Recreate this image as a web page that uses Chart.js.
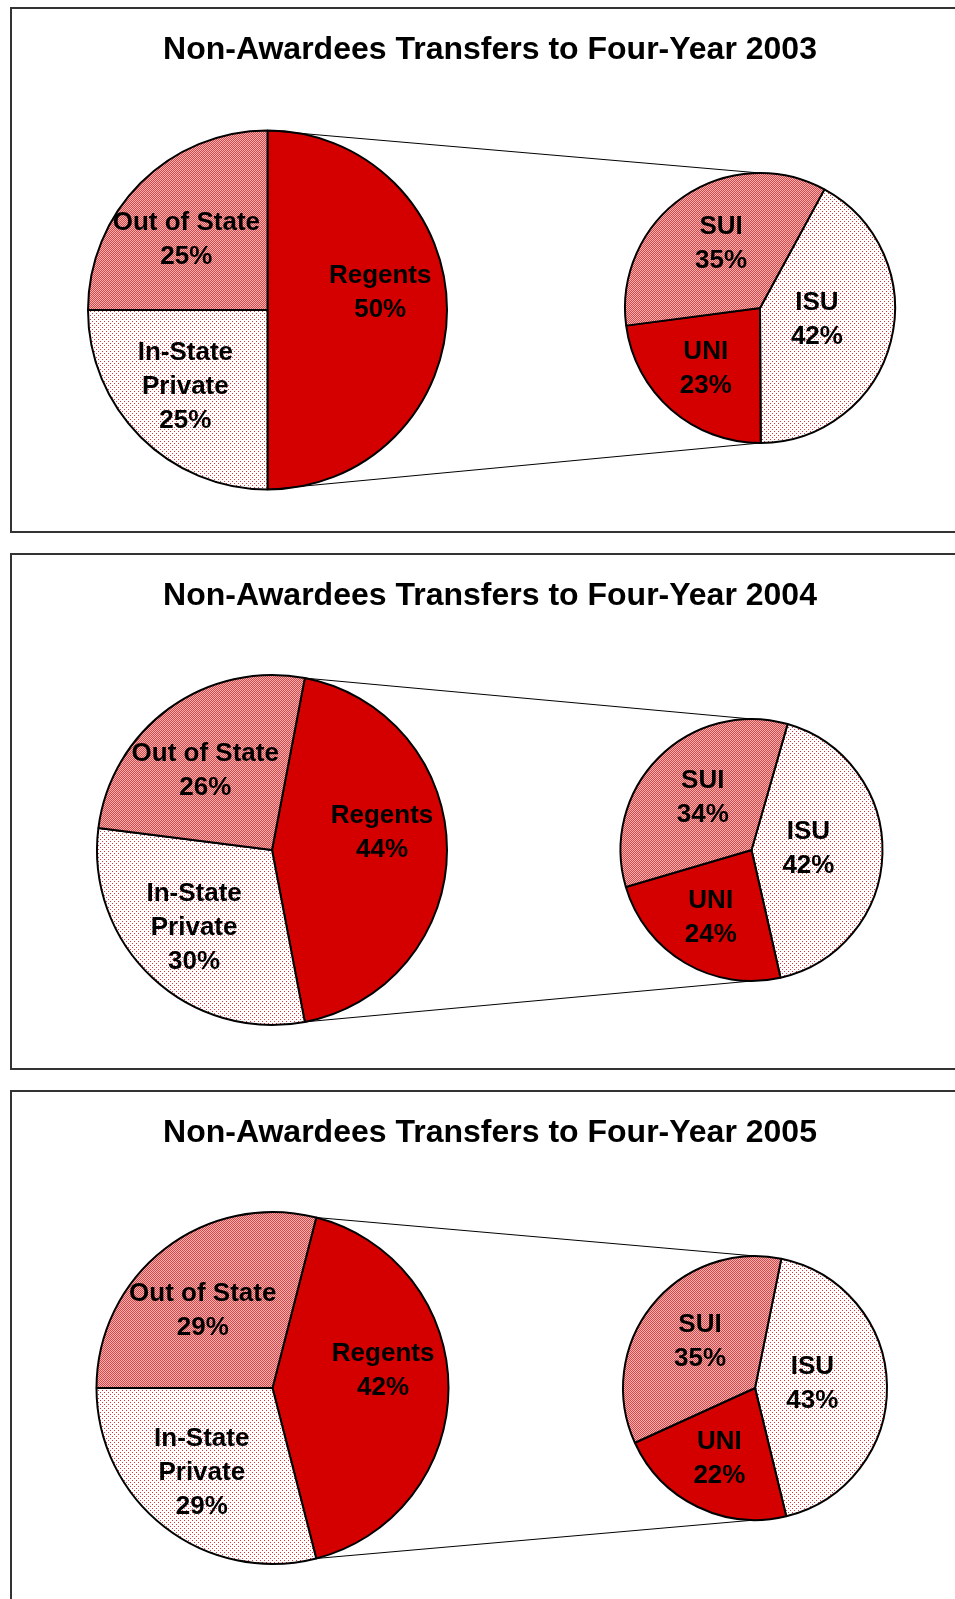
<!DOCTYPE html>
<html>
<head>
<meta charset="utf-8">
<title>Non-Awardees Transfers to Four-Year</title>
<script src="https://cdn.jsdelivr.net/npm/chart.js@4.4.1/dist/chart.umd.min.js"></script>
<style>
  html, body { margin: 0; padding: 0; background: #fff; overflow: hidden; }
  .panel { position: absolute; left: 10px; width: 960px; border: 2px solid #333; box-sizing: border-box; background: #fff; }
  .panel canvas { position: absolute; left: 0; top: 0; }
  .panel h2 { position: absolute; left: 0; right: 0; top: 23px; margin: 0; z-index: 2;
    text-align: center; font: bold 32px "Liberation Sans", Arial, sans-serif; line-height: 32px; color: #000; }
</style>
</head>
<body>
<script>
// data (percent)
const years = ["2003", "2004", "2005"];
const mainLabels = ["Regents", "In-State\nPrivate", "Out of State"];
const regentsShare = [50, 44, 42];
const inStatePrivateShare = [25, 30, 29];
const outOfStateShare = [25, 26, 29];
const zoomLabels = ["ISU", "UNI", "SUI"];
const isuShare = [42, 42, 43];
const uniShare = [23, 24, 22];
const suiShare = [35, 34, 35];

// layout of each panel on the page
const panels = [
  { top: 7,    height: 526, main: { x: 267.5, y: 310,  r: 179.5 }, zoom: { x: 760,   y: 308,  r: 135 }, zoomRotation: 28.5 },
  { top: 553,  height: 517, main: { x: 272,   y: 850,  r: 175 },   zoom: { x: 751.5, y: 850,  r: 131 }, zoomRotation: 16 },
  { top: 1090, height: 520, main: { x: 272.5, y: 1388, r: 176 },   zoom: { x: 755,   y: 1388, r: 132 }, zoomRotation: 11.5 }
];
// label placement per slice: share of the radius along the bisector, then a shift in px
const mainLabelPos = [{ k: 0.6, dx: 5, dy: -17 }, { k: 0.6, dx: -6, dy: 1 }, { k: 0.6, dx: -5, dy: 6 }];
const zoomLabelPos = [{ k: 0.45, dx: -2, dy: -3 }, { k: 0.6, dx: -1, dy: 0 }, { k: 0.6, dx: 7, dy: 3 }];

const RED = "#D40000";
const FONT = '"Liberation Sans", Arial, sans-serif';

function makePattern(size, bg, fg, cells) {
  const c = document.createElement("canvas");
  c.width = size; c.height = size;
  const g = c.getContext("2d");
  g.fillStyle = bg;
  g.fillRect(0, 0, size, size);
  g.fillStyle = fg;
  cells.forEach(([x, y]) => g.fillRect(x, y, 1, 1));
  return g.createPattern(c, "repeat");
}
const checker = makePattern(2, "#F2B4B4", "#DE4545", [[0, 0], [1, 1]]);
const dots = makePattern(4, "#FFFFFF", "#E23030", [[0, 0], [2, 2]]);

const sliceLabels = {
  id: "sliceLabels",
  afterDatasetsDraw(chart, args, opts) {
    const ctx = chart.ctx;
    const values = chart.data.datasets[0].data;
    chart.getDatasetMeta(0).data.forEach((arc, i) => {
      const pos = opts.pos[i];
      const mid = (arc.startAngle + arc.endAngle) / 2;
      const d = arc.outerRadius * pos.k;
      const x = arc.x + Math.cos(mid) * d + pos.dx;
      const y = arc.y + Math.sin(mid) * d + pos.dy;
      const lines = chart.data.labels[i].split("\n").concat(values[i] + "%");
      ctx.save();
      ctx.font = "bold 26px " + FONT;
      ctx.fillStyle = "#000";
      ctx.textAlign = "center";
      ctx.textBaseline = "middle";
      lines.forEach((t, j) => ctx.fillText(t, x, y + (j - (lines.length - 1) / 2) * 34));
      ctx.restore();
    });
  }
};

// lines from the split slice (Regents) to top and bottom of the second pie
function connectors(mainChart) {
  return {
    id: "connectors",
    beforeDatasetsDraw(chart) {
      const a = mainChart.getDatasetMeta(0).data[0];
      const b = chart.getDatasetMeta(0).data[0];
      const ctx = chart.ctx;
      ctx.save();
      ctx.strokeStyle = "#000";
      ctx.lineWidth = 1;
      ctx.beginPath();
      ctx.moveTo(a.x + Math.cos(a.startAngle) * a.outerRadius, a.y + Math.sin(a.startAngle) * a.outerRadius);
      ctx.lineTo(b.x, b.y - b.outerRadius);
      ctx.moveTo(a.x + Math.cos(a.endAngle) * a.outerRadius, a.y + Math.sin(a.endAngle) * a.outerRadius);
      ctx.lineTo(b.x, b.y + b.outerRadius);
      ctx.stroke();
      ctx.restore();
    }
  };
}

function span(c, size) {
  return 2 * c > size ? [2 * c - size, 0] : [0, size - 2 * c];
}

function pieChart(canvas, origin, labels, values, colors, center, rotation, labelPos, extra) {
  const [left, right] = span(center.x - origin.x, canvas.width);
  const [top, bottom] = span(center.y - origin.y, canvas.height);
  return new Chart(canvas, {
    type: "pie",
    data: {
      labels: labels,
      datasets: [{ data: values, backgroundColor: colors, borderColor: "#000", borderWidth: 2 }]
    },
    options: {
      responsive: false,
      animation: false,
      events: [],
      rotation: rotation,
      radius: center.r,
      layout: { padding: { left, right, top, bottom } },
      plugins: {
        legend: { display: false },
        tooltip: { enabled: false },
        sliceLabels: { pos: labelPos }
      }
    },
    plugins: extra.concat(sliceLabels)
  });
}

panels.forEach((p, i) => {
  const div = document.createElement("div");
  div.className = "panel";
  div.style.top = p.top + "px";
  div.style.height = p.height + "px";
  document.body.appendChild(div);

  const W = 956, H = p.height - 4;
  const origin = { x: 12, y: p.top + 2 };
  const c1 = document.createElement("canvas");
  const c2 = document.createElement("canvas");
  [c1, c2].forEach(c => { c.width = W; c.height = H; div.appendChild(c); });

  const h = document.createElement("h2");
  h.textContent = "Non-Awardees Transfers to Four-Year " + years[i];
  div.appendChild(h);

  const mainValues = [regentsShare[i], inStatePrivateShare[i], outOfStateShare[i]];
  const mainRotation = 90 - regentsShare[i] * 1.8; // split slice faces the second pie
  const main = pieChart(c1, origin, mainLabels, mainValues, [RED, dots, checker], p.main, mainRotation, mainLabelPos, []);

  const zoomValues = [isuShare[i], uniShare[i], suiShare[i]];
  pieChart(c2, origin, zoomLabels, zoomValues, [dots, RED, checker], p.zoom, p.zoomRotation, zoomLabelPos, [connectors(main)]);
});
</script>
</body>
</html>
